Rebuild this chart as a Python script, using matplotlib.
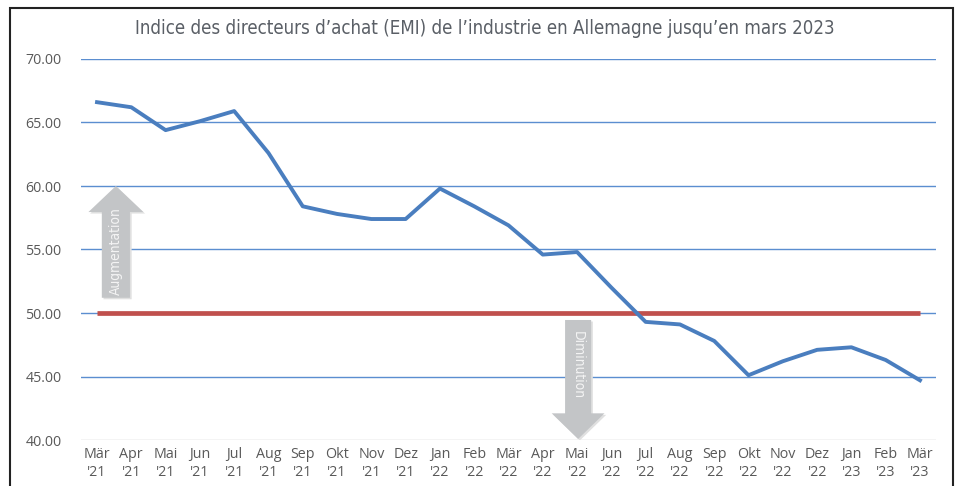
import matplotlib
matplotlib.use("Agg")
import matplotlib.pyplot as plt
from matplotlib import font_manager
from matplotlib.patches import Polygon, Rectangle
import numpy as np

months = ["Mär", "Apr", "Mai", "Jun", "Jul", "Aug", "Sep", "Okt", "Nov", "Dez", "Jan", "Feb",
          "Mär", "Apr", "Mai", "Jun", "Jul", "Aug", "Sep", "Okt", "Nov", "Dez", "Jan", "Feb", "Mär"]
years = ["'21"] * 10 + ["'22"] * 12 + ["'23"] * 3
pmi = [66.6, 66.2, 64.4, 65.1, 65.9, 62.6, 58.4, 57.8, 57.4, 57.4, 59.8, 58.4,
       56.9, 54.6, 54.8, 52.0, 49.3, 49.1, 47.8, 45.1, 46.2, 47.1, 47.3, 46.3, 44.7]
threshold = 50.0
yticks = [40, 45, 50, 55, 60, 65, 70]
title = "Indice des directeurs d’achat (EMI) de l’industrie en Allemagne jusqu’en mars 2023"

# look for a condensed face, if one is installed
cond_path = None
for f in font_manager.fontManager.ttflist:
    nm = (f.name + " " + str(f.stretch)).lower()
    if ("condensed" in nm or "narrow" in nm) and f.weight in (400, "normal", "regular") \
            and f.style == "normal" and "semi" not in nm and "extra" not in nm:
        cond_path = f.fname
        break
if cond_path is not None:
    cond_fp = font_manager.FontProperties(fname=cond_path)
    title_kw = dict(fontproperties=cond_fp, fontsize=13.4)
    arrow_kw = dict(fontproperties=cond_fp, fontsize=9.9)
else:
    title_kw = dict(family=["Roboto", "DejaVu Sans"], fontsize=13.2)
    arrow_kw = dict(family=["Roboto", "DejaVu Sans"], fontsize=9.3)

fig = plt.figure(figsize=(9.63, 4.86), dpi=100)
fig.patch.set_facecolor("white")

# outer frame
fig.patches.append(Rectangle((10 / 963, -0.05), 943 / 963, 1 - 8 / 486 + 0.05,
                             transform=fig.transFigure, fill=False,
                             edgecolor="#222222", linewidth=1.5, zorder=0))

ax = fig.add_axes([81 / 963, 46 / 486, 855 / 963, 381 / 486])
x = np.arange(len(pmi))
ax.set_xlim(-0.467, len(pmi) - 1 + 0.467)
ax.set_ylim(40, 70)

for yv in yticks:
    if yv == 40:
        ax.axhline(yv, color="#c8c8c8", lw=1.0, zorder=1)
    else:
        ax.axhline(yv, color="#5b8ed0", lw=1.0, zorder=1)

ax.plot([x[0], x[-1]], [threshold, threshold], color="#c0504d", lw=3.4,
        solid_capstyle="butt", zorder=3)
ax.plot(x, pmi, color="#4a7ebf", lw=2.8, solid_joinstyle="round", zorder=4)

# arrows (with a soft shadow)
arrow_col = "#c3c5c7"
shadow_col = "#e0e0e0"
def arrow(pts, dx, dy):
    sh = Polygon([(px + dx, py + dy) for px, py in pts], closed=True,
                 facecolor=shadow_col, edgecolor="none", zorder=2)
    ax.add_patch(sh)
    ax.add_patch(Polygon(pts, closed=True, facecolor=arrow_col, edgecolor="none", zorder=2))

ux = 0.55
arrow([(ux, 60.0), (ux + 0.8, 57.95), (ux + 0.41, 57.95), (ux + 0.41, 51.2),
       (ux - 0.41, 51.2), (ux - 0.41, 57.95), (ux - 0.8, 57.95)], 0.05, -0.12)
ax.text(ux, 54.9, "Augmentation", rotation=90, ha="center", va="center",
        color="#f4f4f4", zorder=5, **arrow_kw)
dn_x = 14.03
arrow([(dn_x, 40.08), (dn_x + 0.77, 42.1), (dn_x + 0.38, 42.1), (dn_x + 0.38, 49.45),
       (dn_x - 0.38, 49.45), (dn_x - 0.38, 42.1), (dn_x - 0.77, 42.1)], 0.05, -0.12)
ax.text(dn_x, 45.9, "Diminution", rotation=-90, ha="center", va="center",
        color="#f4f4f4", zorder=5, **arrow_kw)

for s in ax.spines.values():
    s.set_visible(False)
ax.set_yticks(yticks)
ax.set_yticklabels([f"{v:.2f}" for v in yticks])
ax.set_xticks(x)
ax.set_xticklabels([f"{m}\n{yv}" for m, yv in zip(months, years)])
ax.tick_params(axis="both", length=0, colors="#595959", labelsize=10.3)
for lab in ax.get_xticklabels() + ax.get_yticklabels():
    lab.set_family(["Open Sans", "DejaVu Sans"])
ax.tick_params(axis="y", pad=14)
ax.tick_params(axis="x", pad=5)
for lab in ax.get_xticklabels():
    lab.set_linespacing(1.25)

fig.text(485 / 963, 1 - 28 / 486, title, ha="center", va="center",
         color="#5a5f66", **title_kw)

fig.savefig("out.png", dpi=100, facecolor="white")
